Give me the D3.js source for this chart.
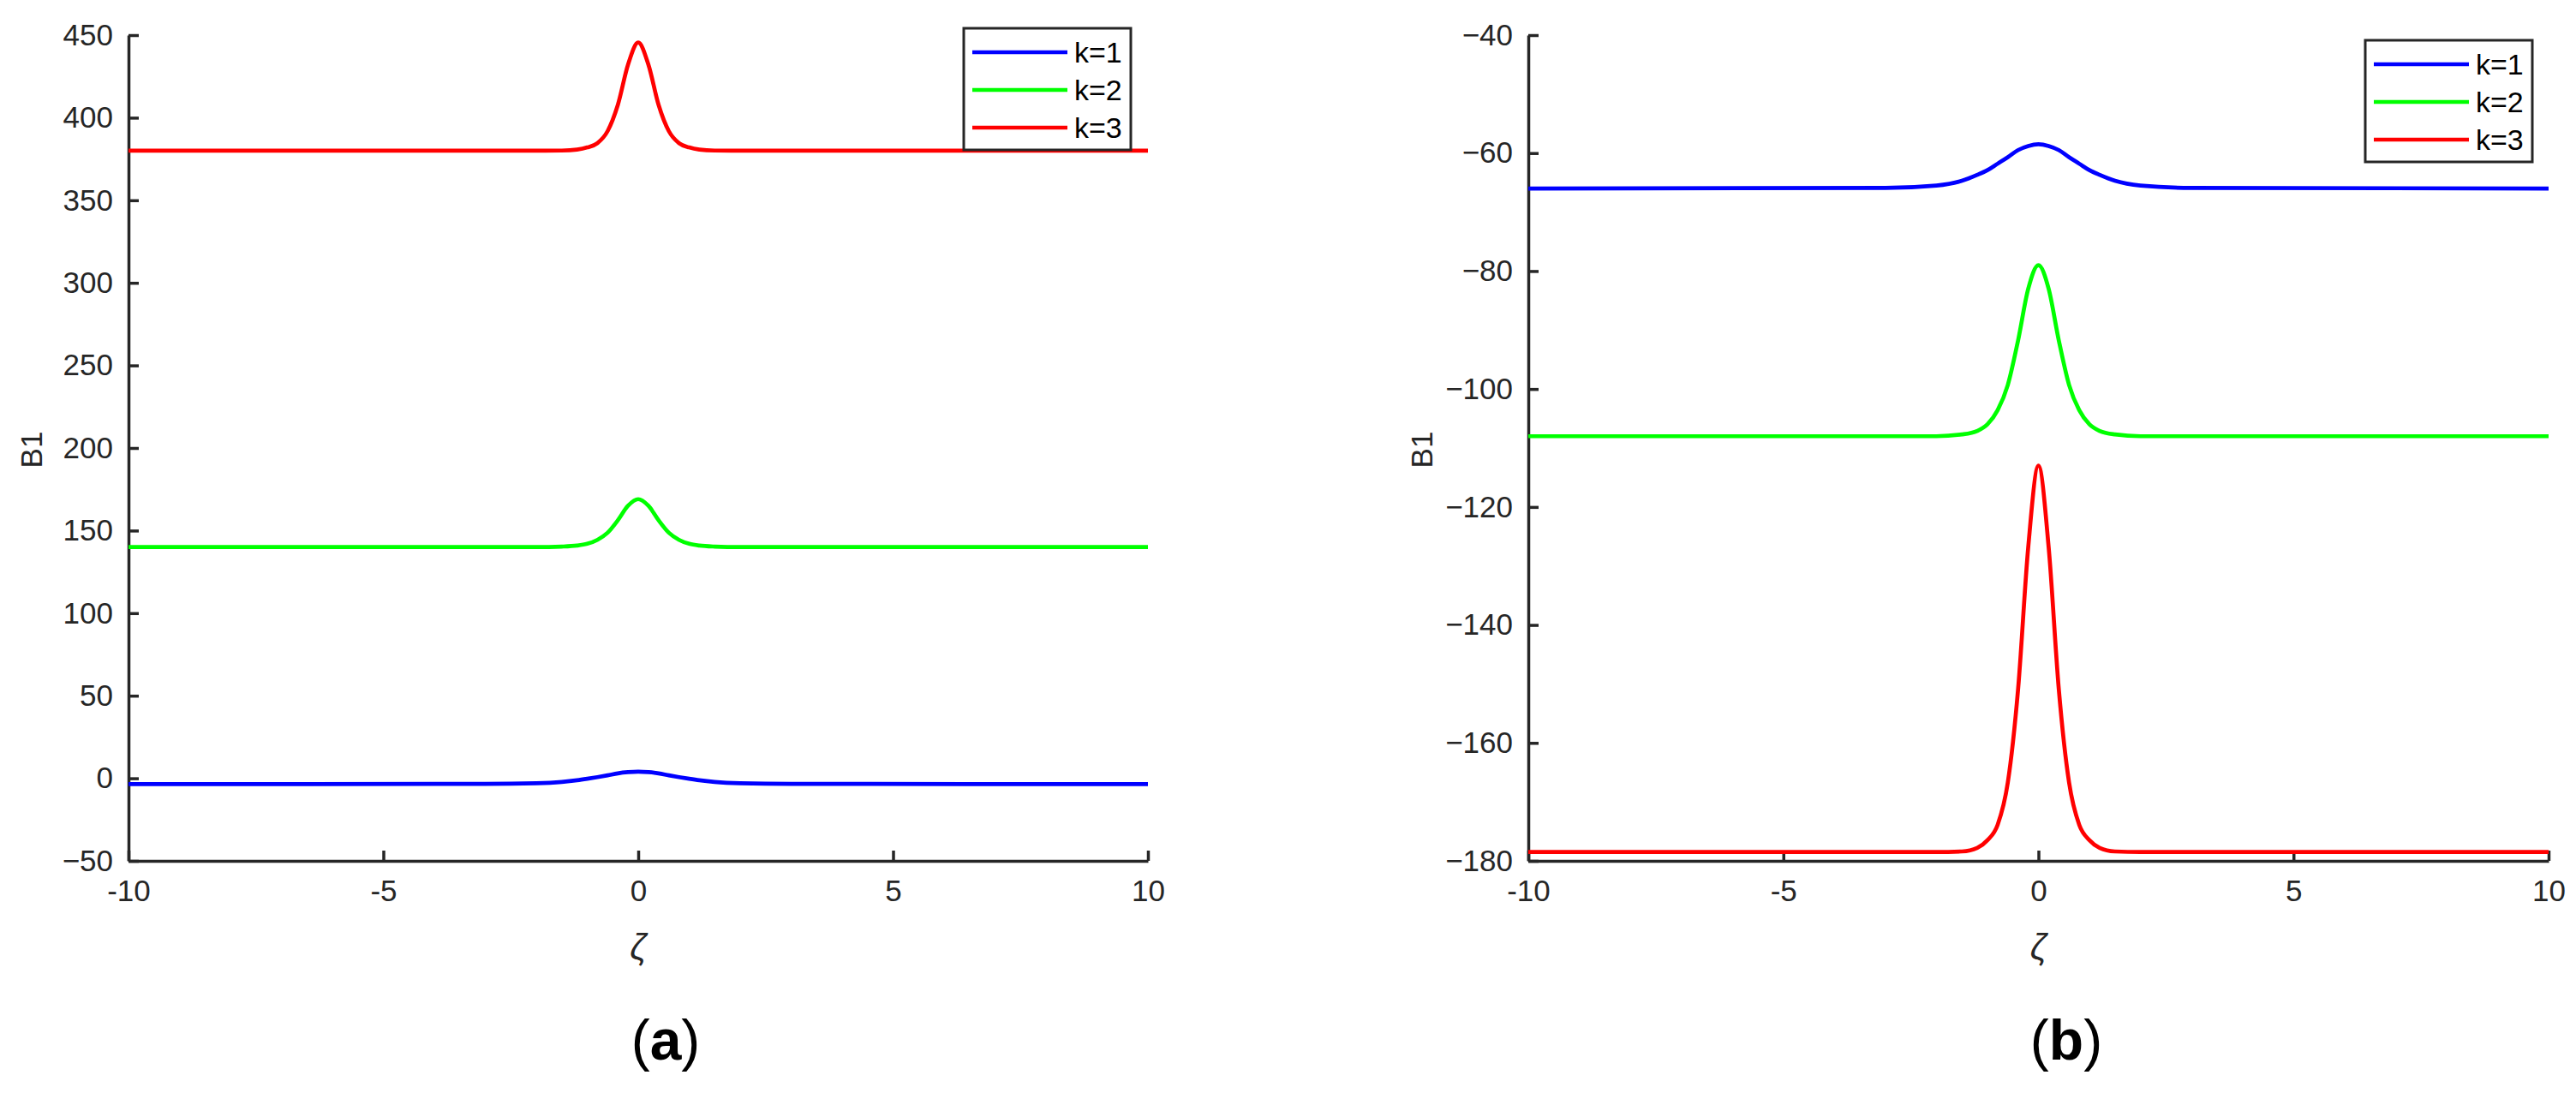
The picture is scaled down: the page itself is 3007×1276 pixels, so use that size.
<!DOCTYPE html>
<html><head><meta charset="utf-8">
<script src="https://cdn.jsdelivr.net/npm/d3@7"></script>
<style>body{margin:0;background:#fff}svg{display:block}text{font-family:"Liberation Sans",Arial,sans-serif}</style>
</head><body>
<svg id="c" width="3007" height="1276"></svg>
<script>
const zeta = [-10,-3,-2,-1.5,-1.2,-1,-0.8,-0.6,-0.4,-0.2,0,0.2,0.4,0.6,0.8,1,1.2,1.5,2,3,10];
// panel (a)
const a_k1 = [-3.5,-3.4,-3.0,-2.2,-1.2,-0.3,0.7,1.8,3.0,3.7,4.0,3.7,3.0,1.8,0.7,-0.3,-1.2,-2.2,-3.0,-3.4,-3.5];
const a_k2 = [140,140,140,140.3,140.9,142,144.4,148.7,156.2,165,169,165,156.2,148.7,144.4,142,140.9,140.3,140,140,140];
const a_k3 = [380,380,380,380.1,380.7,382,384.6,391.9,407.7,432.1,445.5,432.1,407.7,391.9,384.6,382,380.7,380.1,380,380,380];
// panel (b)
const b_k1 = [-66,-65.9,-65.5,-64.7,-63.7,-62.9,-61.8,-60.7,-59.5,-58.8,-58.5,-58.8,-59.5,-60.7,-61.8,-62.9,-63.7,-64.7,-65.5,-65.9,-66];
const b_k2 = [-108,-108,-108,-107.7,-107.1,-106,-103.6,-99.3,-91.8,-83,-79,-83,-91.8,-99.3,-103.6,-106,-107.1,-107.7,-108,-108,-108];
const b_k3 = [-178.5,-178.5,-178.5,-178.4,-177.8,-176.5,-173.9,-166.7,-151,-126.8,-113,-126.8,-151,-166.7,-173.9,-176.5,-177.8,-178.4,-178.5,-178.5,-178.5];
const xTicks = [-10,-5,0,5,10];
const aTicks = [-50,0,50,100,150,200,250,300,350,400,450];
const bTicks = [-180,-160,-140,-120,-100,-80,-60,-40];
const labels = ["k=1","k=2","k=3"];
const colors = ["#0000ff","#00ff00","#ff0000"];

const svg = d3.select("#c");
function panel(o){
  const g = svg.append("g");
  const x = d3.scaleLinear().domain([-10,10]).range([o.x0,o.x1]);
  const y = d3.scaleLinear().domain(o.yd).range([1005,41]);
  const ax = g.append("g").attr("transform","translate(0,1005)")
    .call(d3.axisBottom(x).tickValues(xTicks).tickSizeInner(-12).tickSizeOuter(0).tickPadding(22).tickFormat(d=>String(d).replace("-","-")));
  const ay = g.append("g").attr("transform",`translate(${o.x0},0)`)
    .call(d3.axisLeft(y).tickValues(o.ticks).tickSizeInner(-12).tickSizeOuter(0).tickPadding(18));
  [ax,ay].forEach(a=>{a.selectAll("path,line").attr("stroke","#262626").attr("stroke-width",3.5);
    a.selectAll("text").attr("font-size",35).attr("fill","#262626").attr("font-family","'Liberation Sans',Arial,sans-serif");});
  ax.selectAll("text").attr("dy","0.71em");
  const line = d3.line().x((d,i)=>x(zeta[i])).y(d=>y(d)).curve(d3.curveMonotoneX);
  o.series.forEach((s,i)=>g.append("path").attr("d",line(s)).attr("fill","none").attr("stroke",colors[i]).attr("stroke-width",4.7));
  // legend
  g.append("rect").attr("x",o.lx).attr("y",o.ly).attr("width",195).attr("height",142).attr("fill","#fff").attr("stroke","#262626").attr("stroke-width",3);
  labels.forEach((l,i)=>{
    const yy = o.ly+28+44*i;
    g.append("line").attr("x1",o.lx+10).attr("x2",o.lx+121).attr("y1",yy).attr("y2",yy).attr("stroke",colors[i]).attr("stroke-width",4.7);
    g.append("text").attr("x",o.lx+129).attr("y",yy+12).attr("font-size",34).attr("fill","#000").text(l);
  });
  g.append("text").attr("transform",`translate(${o.ylx},525) rotate(-90)`).attr("text-anchor","middle").attr("dy","0.35em").attr("font-size",35).attr("fill","#262626").text("B1");
  g.append("text").attr("x",x(0)).attr("y",1120).attr("text-anchor","middle").attr("font-size",42).attr("font-style","italic").attr("fill","#262626").attr("font-family","'DejaVu Serif',serif").text("ζ");
  g.append("text").attr("x",o.cx).attr("y",1237).attr("text-anchor","middle").attr("font-size",66).attr("font-family","'Liberation Serif','Times New Roman',serif")
    .html('(<tspan font-weight="bold">'+o.cap+'</tspan>)');
}
panel({x0:150,x1:1340,yd:[-50,450],ticks:aTicks,series:[a_k1,a_k2,a_k3],lx:1125,ly:33,ylx:37,cx:777,cap:"a"});
panel({x0:1784,x1:2975,yd:[-180,-40],ticks:bTicks,series:[b_k1,b_k2,b_k3],lx:2761,ly:47,ylx:1660,cx:2412,cap:"b"});
</script>
</body></html>
